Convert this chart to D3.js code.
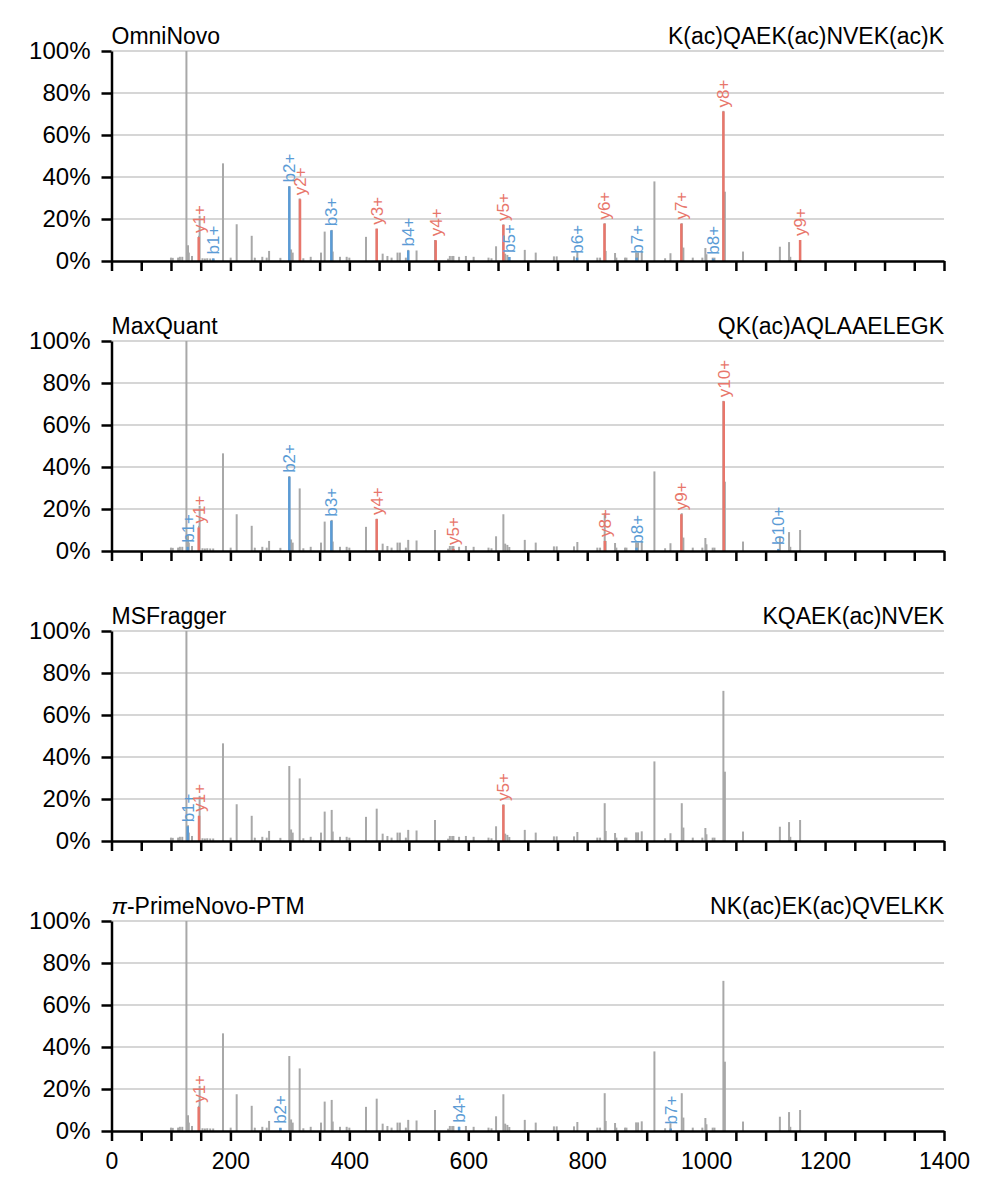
<!DOCTYPE html>
<html>
<head>
<meta charset="utf-8">
<script src="https://cdn.jsdelivr.net/npm/d3@7"></script>
<style>
  body { margin: 0; background: #fff; }
  svg text { font-family: "Liberation Sans", Arial, sans-serif; }
</style>
</head>
<body>
<div id="chart"></div>
<script>
// base spectrum, m/z and relative intensity (%)
var peakMz  = [100, 103, 112, 115, 119, 126, 128.7, 130, 135.4, 147.1, 148.2, 153, 157, 161, 166, 171,
               187.5, 200.4, 210.5, 235.8, 241, 253.6, 261, 265, 284, 299, 302, 304.7, 316.5, 322.6, 335,
               352.3, 358.5, 370.3, 372, 384.3, 395.5, 400, 428, 446, 456, 464, 471, 481, 485, 495, 499, 513,
               544, 566, 569, 573, 575, 584.5, 596, 609, 634, 639, 646.7, 659, 662, 665.7, 669, 695, 713.4,
               744, 748.7, 777.8, 783.4, 817, 821.6, 829.4, 831, 846.8, 849, 863.6, 866, 882.2, 885.5, 891.7,
               913, 931, 940, 959, 961.7, 977.5, 993.6, 998.7, 1000.5, 1011, 1014, 1029, 1031.5, 1062,
               1124, 1139.4, 1141.5, 1158];
var peakInt = [1.6, 1.5, 1.6, 2, 2, 100, 7.5, 4, 2.4, 12, 21.5, 1.3, 1.2, 1.3, 1.2, 1.2,
               46.5, 1.6, 17.5, 12, 1.6, 2, 1.6, 4.8, 1.5, 35.7, 5.5, 4, 29.8, 1.3, 2,
               4, 14, 14.8, 4.5, 2, 2, 1.6, 11.5, 15.4, 3.5, 2.4, 1.6, 4, 4, 1.6, 5.3, 5,
               10, 1.1, 2.4, 2.4, 2.4, 2, 2.4, 2, 1.6, 1.3, 7, 17.5, 3.5, 2.9, 1.9, 5.3, 4,
               2.2, 2.2, 2.2, 4.3, 1.6, 1.6, 18, 4.8, 3.8, 1.6, 1.6, 1.6, 4.1, 4.1, 4.6,
               37.9, 1.3, 3.7, 18, 6.4, 1.6, 1.6, 6.2, 3.2, 1.6, 1.6, 71.5, 33, 4.5,
               6.8, 9, 2, 10];

var methods  = ["OmniNovo", "MaxQuant", "MSFragger", "PrimeNovo-PTM"];
var peptides = ["K(ac)QAEK(ac)NVEK(ac)K", "QK(ac)AQLAAELEGK", "KQAEK(ac)NVEK", "NK(ac)EK(ac)QVELKK"];

// matched fragment ions per method: [label, m/z, intensity %]
var ionsOmni = [["y1+", 146.6, 11.4], ["b1+", 171.3, 1.2], ["b2+", 299, 35.5], ["y2+", 317, 29.4],
                ["b3+", 369.7, 14.6], ["y3+", 446, 15.4], ["b4+", 499, 5], ["y4+", 545.2, 9.9],
                ["y5+", 659, 17.2], ["b5+", 669, 1.9], ["b6+", 782.9, 1.6], ["y6+", 829, 17.8],
                ["b7+", 883.2, 1.6], ["y7+", 958.3, 17.8], ["b8+", 1012, 1.1], ["y8+", 1029, 71.2],
                ["y9+", 1158, 10]];
var ionsMaxQuant = [["b1+", 128.1, 2], ["y1+", 146.6, 11.2], ["b2+", 299, 35.3], ["b3+", 369.7, 14.4],
                    ["y4+", 446, 15.2], ["y5+", 575, 1], ["y8+", 829.6, 4.8], ["b8+", 883, 1.6],
                    ["y9+", 958.3, 17.5], ["y10+", 1029.6, 71.3], ["b10+", 1121.5, 1]];
var ionsMSFragger = [["b1+", 128.1, 7], ["y1+", 147.2, 12], ["y5+", 659, 17.2]];
var ionsPrime = [["y1+", 146.6, 11.5], ["b2+", 284, 1.5], ["b4+", 584.5, 2], ["b7+", 940.5, 1.2]];
var panelIons = [ionsOmni, ionsMaxQuant, ionsMSFragger, ionsPrime];

var yTicks = [0, 20, 40, 60, 80, 100];
var xTicks = d3.range(0, 1401, 50);

var colB = "#5b9bd5", colY = "#e8766b", colPeak = "#a8a8a8", colGrid = "#d6d6d6";

var width = 998, height = 1201;
var panelH = 210, panelTop0 = 51, panelStep = 290;

var svg = d3.select("#chart").append("svg")
    .attr("width", width)
    .attr("height", height);

var x = d3.scaleLinear().domain([0, 1400]).range([111.5, 944]);

var peaks = peakMz.map(function(m, i) { return {mz: m, v: peakInt[i]}; });

methods.forEach(function(name, p) {
    var top = panelTop0 + p * panelStep;
    var y = d3.scaleLinear().domain([0, 100]).range([top + panelH, top]);
    var g = svg.append("g");

    // gridlines
    g.selectAll(".grid")
      .data(yTicks.slice(1))
      .enter().append("line")
        .attr("x1", x(0)).attr("x2", x(1400))
        .attr("y1", d => y(d)).attr("y2", d => y(d))
        .attr("stroke", colGrid)
        .attr("stroke-width", 2);

    // raw peaks
    g.selectAll(".peak")
      .data(peaks)
      .enter().append("line")
        .attr("x1", d => x(d.mz)).attr("x2", d => x(d.mz))
        .attr("y1", y(0)).attr("y2", d => y(d.v))
        .attr("stroke", colPeak)
        .attr("stroke-width", 2);

    // annotated ions
    var ions = panelIons[p];
    g.selectAll(".ion")
      .data(ions)
      .enter().append("line")
        .attr("x1", d => x(d[1])).attr("x2", d => x(d[1]))
        .attr("y1", y(0)).attr("y2", d => y(d[2]))
        .attr("stroke", d => d[0][0] == "b" ? colB : colY)
        .attr("stroke-width", 2.5);
    g.selectAll(".ionlabel")
      .data(ions)
      .enter().append("text")
        .attr("transform", d => "translate(" + x(d[1]) + "," + (y(d[2]) - 4) + ") rotate(-90)")
        .attr("dy", "0.35em")
        .attr("font-size", 17)
        .attr("fill", d => d[0][0] == "b" ? colB : colY)
        .text(d => d[0]);

    // axes
    var yAxis = g.append("g")
      .attr("transform", "translate(" + x(0) + ",0)")
      .call(d3.axisLeft(y).tickValues(yTicks).tickSize(10).tickSizeOuter(0).tickPadding(11)
            .tickFormat(d => d + "%"));
    var xAxis = g.append("g")
      .attr("transform", "translate(0," + y(0) + ")")
      .call(d3.axisBottom(x).tickValues(xTicks).tickSize(10).tickSizeOuter(0).tickPadding(12)
            .tickFormat(d => (p == 3 && d % 200 == 0) ? d : ""));
    [yAxis, xAxis].forEach(function(a) {
        a.selectAll("path, line").attr("stroke", "#000").attr("stroke-width", 2.5);
        a.selectAll("text").attr("fill", "#000")
          .style("font-family", "'Liberation Sans', Arial, sans-serif");
    });
    yAxis.selectAll("text").attr("font-size", 24);
    xAxis.selectAll("text").attr("font-size", 23);

    // titles
    var t = g.append("text")
      .attr("x", x(0)).attr("y", top - 7)
      .attr("font-size", 23);
    if (p == 3) {
        t.append("tspan").attr("font-style", "italic").text("\u03c0");
        t.append("tspan").text("-" + name);
    } else {
        t.text(name);
    }
    g.append("text")
      .attr("x", x(1400)).attr("y", top - 7)
      .attr("text-anchor", "end")
      .attr("font-size", 23)
      .text(peptides[p]);
});
</script>
</body>
</html>
